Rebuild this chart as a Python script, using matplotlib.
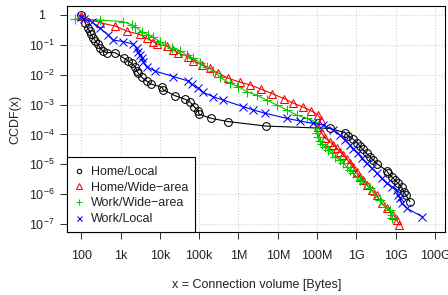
import matplotlib
matplotlib.use("Agg")
import numpy as np
import matplotlib.pyplot as plt
from matplotlib.lines import Line2D
from matplotlib.patches import Rectangle
from matplotlib.ticker import FixedLocator, FixedFormatter, NullLocator

plt.rcParams['font.family'] = ['Liberation Sans', 'DejaVu Sans']
plt.rcParams['mathtext.fontset'] = 'custom'
plt.rcParams['mathtext.rm'] = 'Liberation Sans'
plt.rcParams['mathtext.it'] = 'Liberation Sans:italic'
plt.rcParams['mathtext.default'] = 'regular'

# ---- data: log10(connection volume in bytes), log10(CCDF) ----
home_local_logx = [2.00, 2.10, 2.16, 2.21, 2.25, 2.30, 2.36, 2.42, 2.48, 2.55, 2.65, 2.86,
                   3.09, 3.20, 3.28, 3.37, 3.41, 3.45, 3.54, 3.66, 3.77, 4.05, 4.09, 4.38,
                   4.64, 4.77, 4.87, 4.98, 4.99, 5.30, 5.74, 6.70, 8.33, 8.71, 8.79, 8.92,
                   9.02, 9.09, 9.16, 9.26, 9.35, 9.43, 9.53, 9.77, 9.81, 9.90, 9.98, 10.07,
                   10.15, 10.21, 10.26, 10.36]
home_local_logy = [-0.01, -0.26, -0.43, -0.54, -0.65, -0.76, -0.87, -0.98, -1.10, -1.21, -1.26, -1.26,
                   -1.45, -1.54, -1.62, -1.73, -1.87, -1.95, -2.09, -2.21, -2.31, -2.42, -2.51, -2.70,
                   -2.82, -2.92, -3.07, -3.20, -3.32, -3.46, -3.57, -3.72, -3.80, -3.94, -4.05, -4.16,
                   -4.28, -4.39, -4.50, -4.63, -4.75, -4.86, -4.99, -5.21, -5.30, -5.42, -5.53, -5.64,
                   -5.77, -5.92, -6.03, -6.25]

home_wide_logx = [1.99, 2.48, 2.86, 3.16, 3.49, 3.66, 3.83, 3.92, 4.17, 4.34, 4.47, 4.72,
                  4.85, 5.06, 5.27, 5.49, 5.74, 6.04, 6.29, 6.57, 6.85, 7.16, 7.39, 7.64,
                  7.85, 8.03, 8.09, 8.03, 8.12, 8.20, 8.33, 8.41, 8.50, 8.58, 8.67, 8.75,
                  8.84, 8.92, 9.01, 9.09, 9.18, 9.26, 9.39, 9.52, 9.64, 9.77, 9.94, 10.03,
                  10.09]
home_wide_logy = [-0.03, -0.26, -0.37, -0.54, -0.65, -0.78, -0.89, -0.97, -1.04, -1.17, -1.28, -1.40,
                  -1.53, -1.67, -1.79, -1.95, -2.12, -2.25, -2.34, -2.48, -2.63, -2.80, -2.95, -3.08,
                  -3.21, -3.35, -3.52, -3.74, -3.96, -4.13, -4.24, -4.35, -4.46, -4.58, -4.69, -4.83,
                  -4.97, -5.10, -5.25, -5.42, -5.53, -5.69, -5.86, -6.03, -6.31, -6.47, -6.70, -6.87,
                  -7.03]

work_wide_logx = [1.84, 2.48, 3.07, 3.28, 3.37, 3.54, 3.70, 3.83, 4.00, 4.13, 4.30, 4.51,
                  4.68, 4.85, 5.02, 5.19, 5.36, 5.53, 5.78, 6.00, 6.21, 6.46, 6.72, 6.97,
                  7.23, 7.48, 7.74, 7.95, 7.99, 7.99, 8.03, 8.07, 8.12, 8.20, 8.28, 8.37,
                  8.45, 8.58, 8.67, 8.75, 8.84, 8.92, 9.01, 9.09, 9.22, 9.35, 9.47, 9.60,
                  9.73, 9.86, 9.90, 9.91]
work_wide_logy = [-0.13, -0.17, -0.22, -0.33, -0.39, -0.56, -0.67, -0.75, -0.89, -1.00, -1.12, -1.20,
                  -1.34, -1.45, -1.60, -1.73, -1.88, -2.08, -2.29, -2.40, -2.57, -2.68, -2.85, -3.01,
                  -3.18, -3.35, -3.46, -3.57, -3.79, -3.96, -4.09, -4.22, -4.32, -4.41, -4.52, -4.63,
                  -4.75, -4.86, -4.97, -5.08, -5.19, -5.30, -5.42, -5.53, -5.64, -5.80, -6.03, -6.20,
                  -6.42, -6.53, -6.70, -6.80]

work_local_logx = [1.99, 2.06, 2.26, 2.48, 2.69, 2.81, 3.07, 3.32, 3.41, 3.45, 3.49, 3.54,
                   3.58, 3.66, 3.88, 4.34, 4.72, 4.81, 4.98, 5.10, 5.36, 5.61, 6.12, 6.38,
                   6.67, 7.23, 7.56, 7.90, 8.16, 8.41, 8.58, 8.71, 8.84, 8.92, 9.05, 9.13,
                   9.26, 9.39, 9.52, 9.64, 9.77, 9.90, 10.03, 10.07, 10.11, 10.15, 10.28, 10.67]
work_local_logy = [-0.07, -0.13, -0.22, -0.45, -0.67, -0.84, -0.89, -0.98, -1.12, -1.23, -1.34, -1.45,
                   -1.56, -1.73, -1.88, -2.06, -2.21, -2.32, -2.45, -2.59, -2.74, -2.85, -3.07, -3.18,
                   -3.29, -3.46, -3.55, -3.63, -3.68, -3.85, -4.02, -4.19, -4.35, -4.50, -4.63, -4.80,
                   -4.97, -5.13, -5.30, -5.47, -5.64, -5.75, -5.86, -6.03, -6.14, -6.31, -6.47, -6.75]

series_names = ['Home/Local', 'Home/Wide\u2212area', 'Work/Wide\u2212area', 'Work/Local']
series_logx = [home_local_logx, home_wide_logx, work_wide_logx, work_local_logx]
series_logy = [home_local_logy, home_wide_logy, work_wide_logy, work_local_logy]

x_tick_exp = [2, 3, 4, 5, 6, 7, 8, 9, 10, 11]
x_tick_labels = ['100', '1k', '10k', '100k', '1M', '10M', '100M', '1G', '10G', '100G']
y_tick_exp = [0, -1, -2, -3, -4, -5, -6, -7]
y_tick_labels = ['1', '$10^{-1}$', '$10^{-2}$', '$10^{-3}$', '$10^{-4}$',
                 '$10^{-5}$', '$10^{-6}$', '$10^{-7}$']

# ---- styles ----
colors = ['black', '#FF0000', '#00CD00', '#0000FF']
markers = ['o', '^', '+', 'x']
msizes = [5.6, 6.2, 6.8, 5.4]
leg_msizes = [3.2, 4.0, 4.6, 3.6]
FS = 9

W, H = 448, 295
fig = plt.figure(figsize=(W / 100, H / 100), dpi=100)
L, R, T, B = 67, 444.7, 6, 232
ax = fig.add_axes([L / W, 1 - B / H, (R - L) / W, (B - T) / H])

for lx, ly, c, m, ms in zip(series_logx, series_logy, colors, markers, msizes):
    ax.plot(10.0 ** np.array(lx), 10.0 ** np.array(ly), color=c, lw=0.8,
            marker=m, ms=ms, mfc='none', mec=c, mew=0.75)

ax.set_xscale('log')
ax.set_yscale('log')
ax.set_xlim(10 ** 1.636, 10 ** 11.247)
ax.set_ylim(10 ** -7.267, 10 ** 0.301)

ax.xaxis.set_major_locator(FixedLocator([10.0 ** e for e in x_tick_exp]))
ax.xaxis.set_major_formatter(FixedFormatter(x_tick_labels))
ax.yaxis.set_major_locator(FixedLocator([10.0 ** e for e in y_tick_exp]))
ax.yaxis.set_major_formatter(FixedFormatter(y_tick_labels))
ax.xaxis.set_minor_locator(NullLocator())
ax.yaxis.set_minor_locator(NullLocator())

ax.tick_params(axis='both', length=5, width=0.75, color='#333333', labelsize=FS,
               labelcolor='#222222')
ax.tick_params(axis='x', pad=8)
ax.tick_params(axis='y', pad=13)
for lab in ax.get_yticklabels():
    lab.set_horizontalalignment('center')

ax.grid(True, color='#d0d0d0', linestyle=':', linewidth=0.8)
ax.set_axisbelow(True)
for sp in ax.spines.values():
    sp.set_linewidth(0.8)
    sp.set_color('black')

fig.text(15 / W, 1 - 119 / H, 'CCDF(x)', rotation=90, ha='center', va='center',
         fontsize=FS, color='#222222')
fig.text(257 / W, 1 - 285 / H, 'x = Connection volume [Bytes]', ha='center', va='center',
         fontsize=FS, color='#222222')

# legend: frame drawn as a rectangle, entries placed by the legend
ax_w, ax_h = R - L, B - T
ax.add_patch(Rectangle((0, 0), (195.3 - L) / ax_w, (B - 156.7) / ax_h,
                       transform=ax.transAxes, facecolor='white', edgecolor='black',
                       linewidth=0.8, zorder=4, clip_on=False))
handles = [Line2D([], [], ls='none', marker=m, ms=ms, mfc='none', mec=c, mew=0.75)
           for c, m, ms in zip(colors, markers, leg_msizes)]
fs_px = FS * 100 / 72
hl = 1.0
leg = ax.legend(handles, series_names, loc='center left',
                bbox_to_anchor=((79 - hl * fs_px / 2 - L) / ax_w, 1 - (195.5 - T) / ax_h),
                borderaxespad=0, borderpad=0, frameon=False, fontsize=FS,
                handlelength=hl, handletextpad=(90.5 - 79 - hl * fs_px / 2) / fs_px,
                labelspacing=0.3)
leg.set_zorder(5)
for t in leg.get_texts():
    t.set_color('#222222')

fig.savefig('out.png', dpi=100)
